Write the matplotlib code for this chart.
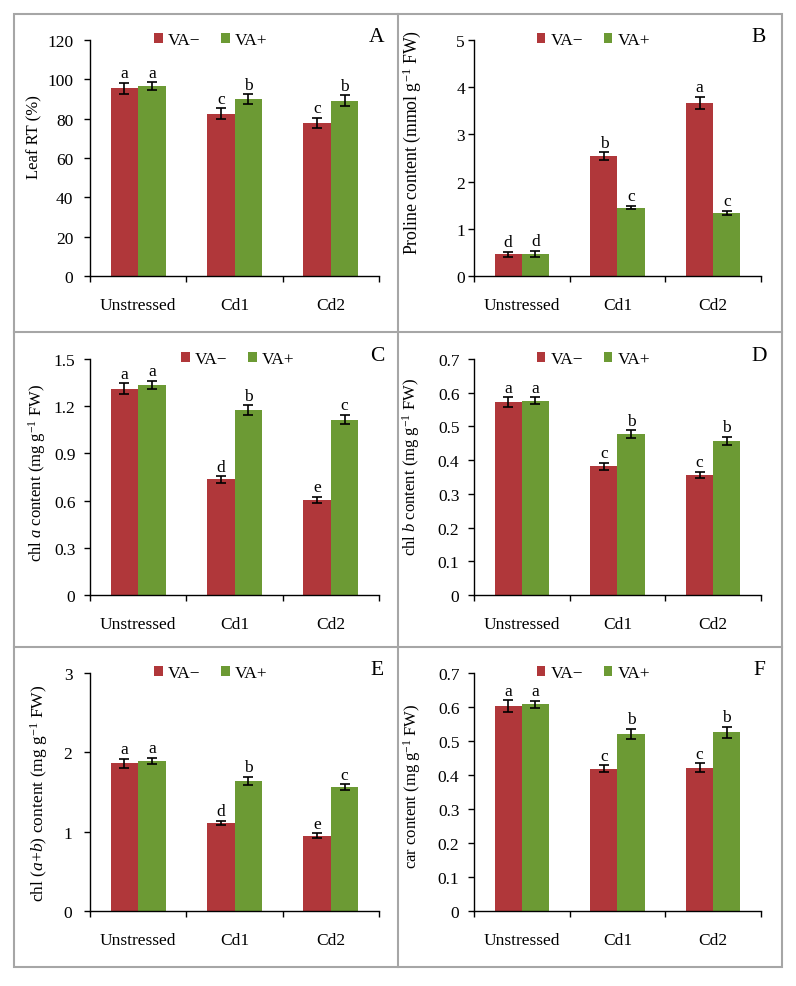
import matplotlib
matplotlib.use("Agg")
import matplotlib.pyplot as plt
from matplotlib.patches import Rectangle
from matplotlib.lines import Line2D
import numpy as np

plt.rcParams['font.family'] = ['Liberation Serif', 'DejaVu Serif']
plt.rcParams['mathtext.fontset'] = 'custom'
plt.rcParams['mathtext.rm'] = 'Liberation Serif'
plt.rcParams['mathtext.it'] = 'Liberation Serif:italic'

categories = ['Unstressed', 'Cd1', 'Cd2']
series_names = ['VA\u2212', 'VA+']

# Panel A: Leaf RT
rt_minus = [95.5, 82.5, 78.0]
rt_plus = [96.5, 90.0, 89.2]
rt_minus_err = [2.8, 2.7, 2.5]
rt_plus_err = [2.0, 2.5, 2.7]
rt_minus_let = ['a', 'c', 'c']
rt_plus_let = ['a', 'b', 'b']

# Panel B: Proline
pro_minus = [0.46, 2.54, 3.67]
pro_plus = [0.47, 1.45, 1.34]
pro_minus_err = [0.05, 0.08, 0.13]
pro_plus_err = [0.07, 0.04, 0.04]
pro_minus_let = ['d', 'b', 'a']
pro_plus_let = ['d', 'c', 'c']

# Panel C: chl a
chla_minus = [1.31, 0.735, 0.605]
chla_plus = [1.335, 1.175, 1.115]
chla_minus_err = [0.035, 0.02, 0.02]
chla_plus_err = [0.025, 0.03, 0.03]
chla_minus_let = ['a', 'd', 'e']
chla_plus_let = ['a', 'b', 'c']

# Panel D: chl b
chlb_minus = [0.572, 0.382, 0.356]
chlb_plus = [0.576, 0.477, 0.458]
chlb_minus_err = [0.015, 0.01, 0.01]
chlb_plus_err = [0.01, 0.012, 0.012]
chlb_minus_let = ['a', 'c', 'c']
chlb_plus_let = ['a', 'b', 'b']

# Panel E: chl (a+b)
chlab_minus = [1.86, 1.11, 0.95]
chlab_plus = [1.89, 1.64, 1.56]
chlab_minus_err = [0.06, 0.03, 0.03]
chlab_plus_err = [0.04, 0.05, 0.04]
chlab_minus_let = ['a', 'd', 'e']
chlab_plus_let = ['a', 'b', 'c']

# Panel F: carotenoids
car_minus = [0.603, 0.418, 0.422]
car_plus = [0.608, 0.521, 0.526]
car_minus_err = [0.017, 0.01, 0.013]
car_plus_err = [0.011, 0.015, 0.016]
car_minus_let = ['a', 'c', 'c']
car_plus_let = ['a', 'b', 'b']

yt_A = [0, 20, 40, 60, 80, 100, 120]
yt_B = [0, 1, 2, 3, 4, 5]
yt_C = [0, 0.3, 0.6, 0.9, 1.2, 1.5]
yt_D = [0, 0.1, 0.2, 0.3, 0.4, 0.5, 0.6, 0.7]
yt_E = [0, 1, 2, 3]
yt_F = [0, 0.1, 0.2, 0.3, 0.4, 0.5, 0.6, 0.7]
ytl_A = ['0', '20', '40', '60', '80', '100', '120']
ytl_B = ['0', '1', '2', '3', '4', '5']
ytl_C = ['0', '0.3', '0.6', '0.9', '1.2', '1.5']
ytl_D = ['0', '0.1', '0.2', '0.3', '0.4', '0.5', '0.6', '0.7']
ytl_E = ['0', '1', '2', '3']
ytl_F = ['0', '0.1', '0.2', '0.3', '0.4', '0.5', '0.6', '0.7']

RED = '#B0373A'
GREEN = '#6C9A34'
W, H = 796, 987

fig = plt.figure(figsize=(W / 100, H / 100), dpi=100)

def px_axes(x0, y0, x1, y1):
    return fig.add_axes([x0 / W, 1 - y1 / H, (x1 - x0) / W, (y1 - y0) / H])

UNIT = r'($\mathrm{mg\ g}^{-1}$ FW)'
panels = [
    dict(box=(90, 41, 379, 277), m=rt_minus, p=rt_plus, me=rt_minus_err, pe=rt_plus_err,
         ml=rt_minus_let, pl=rt_plus_let, yt=yt_A, ytl=ytl_A, ylab='Leaf RT (%)',
         letter='A', lab_xy=(-0.166, 0.593), pad=8, leg_x=0.226, lfs=12),
    dict(box=(474, 41, 761, 277), m=pro_minus, p=pro_plus, me=pro_minus_err, pe=pro_plus_err,
         ml=pro_minus_let, pl=pro_plus_let, yt=yt_B, ytl=ytl_B,
         ylab=r'Proline content ($\mathrm{mmol\ g}^{-1}$ FW)',
         letter='B', lab_xy=(-0.178, 0.568), pad=2.5, leg_x=0.223, lfs=12.8),
    dict(box=(90, 360, 379, 596), m=chla_minus, p=chla_plus, me=chla_minus_err, pe=chla_plus_err,
         ml=chla_minus_let, pl=chla_plus_let, yt=yt_C, ytl=ytl_C,
         ylab='chl $a$ content ' + UNIT,
         letter='C', lab_xy=(-0.145, 0.523), pad=6.5, leg_x=0.32, lfs=12),
    dict(box=(474, 360, 761, 596), m=chlb_minus, p=chlb_plus, me=chlb_minus_err, pe=chlb_plus_err,
         ml=chlb_minus_let, pl=chlb_plus_let, yt=yt_D, ytl=ytl_D,
         ylab='chl $b$ content ' + UNIT,
         letter='D', lab_xy=(-0.181, 0.547), pad=6.5, leg_x=0.223, lfs=12),
    dict(box=(90, 674, 379, 912), m=chlab_minus, p=chlab_plus, me=chlab_minus_err, pe=chlab_plus_err,
         ml=chlab_minus_let, pl=chlab_plus_let, yt=yt_E, ytl=ytl_E,
         ylab='chl ($a$+$b$) content ' + UNIT,
         letter='E', lab_xy=(-0.138, 0.50), pad=8.6, leg_x=0.226, lfs=12.6),
    dict(box=(474, 674, 761, 912), m=car_minus, p=car_plus, me=car_minus_err, pe=car_plus_err,
         ml=car_minus_let, pl=car_plus_let, yt=yt_F, ytl=ytl_F,
         ylab='car content ' + UNIT,
         letter='F', lab_xy=(-0.178, 0.53), pad=6.5, leg_x=0.223, lfs=12),
]

FS = 12.5
x = np.arange(len(categories))
bw = 0.285

for pn in panels:
    ax = px_axes(*pn['box'])
    b1 = ax.bar(x - bw / 2, pn['m'], bw, color=RED, label=series_names[0], zorder=2)
    b2 = ax.bar(x + bw / 2, pn['p'], bw, color=GREEN, label=series_names[1], zorder=2)
    ax.errorbar(x - bw / 2, pn['m'], yerr=pn['me'], fmt='none', ecolor='black',
                elinewidth=1.2, capsize=3.3, capthick=1.2, zorder=3)
    ax.errorbar(x + bw / 2, pn['p'], yerr=pn['pe'], fmt='none', ecolor='black',
                elinewidth=1.2, capsize=3.3, capthick=1.2, zorder=3)
    for i in range(len(categories)):
        ax.annotate(pn['ml'][i], (x[i] - bw / 2, pn['m'][i] + pn['me'][i]),
                    xytext=(0, 4), textcoords='offset points', ha='center',
                    va='baseline', fontsize=FS)
        ax.annotate(pn['pl'][i], (x[i] + bw / 2, pn['p'][i] + pn['pe'][i]),
                    xytext=(0, 4), textcoords='offset points', ha='center',
                    va='baseline', fontsize=FS)
    ax.set_xlim(-0.5, 2.5)
    ax.set_ylim(pn['yt'][0], pn['yt'][-1])
    ax.set_yticks(pn['yt'])
    ax.set_yticklabels(pn['ytl'], fontsize=FS)
    ax.set_xticks([-0.5, 0.5, 1.5, 2.5])
    ax.set_xticklabels([])
    ax.set_xticks(x, minor=True)
    ax.set_xticklabels(categories, minor=True, fontsize=FS)
    ax.tick_params(axis='x', which='major', direction='out', length=4, width=1)
    ax.tick_params(axis='x', which='minor', length=0, pad=15)
    ax.tick_params(axis='y', direction='out', length=4, width=1, pad=pn['pad'])
    for s in ['top', 'right']:
        ax.spines[s].set_visible(False)
    for s in ['left', 'bottom']:
        ax.spines[s].set_linewidth(1.0)
        ax.spines[s].set_color('black')
    ax.set_ylabel(pn['ylab'], fontsize=pn['lfs'])
    ax.yaxis.set_label_coords(*pn['lab_xy'])
    ax.text(0.993, 1.015, pn['letter'], transform=ax.transAxes, ha='center',
            va='center', fontsize=15.5)
    ax.legend(handles=[b1, b2], loc='center left', bbox_to_anchor=(pn['leg_x'] - 0.005, 1.0),
              ncol=2, frameon=False, fontsize=FS, handlelength=0.5, handleheight=0.5,
              handletextpad=0.3, columnspacing=1.2, borderpad=0, borderaxespad=0)

# panel frame
GRAY = '#A6A6A6'
fig.add_artist(Rectangle((14 / W, 1 - 968 / H), (782 - 14) / W, (968 - 15) / H,
                         transform=fig.transFigure, fill=False, edgecolor=GRAY, lw=1.5))
fig.add_artist(Line2D([398 / W, 398 / W], [1 - 968 / H, 1 - 15 / H],
                      transform=fig.transFigure, color=GRAY, lw=1.5))
for yy in (333, 648):
    fig.add_artist(Line2D([14 / W, 782 / W], [1 - yy / H, 1 - yy / H],
                          transform=fig.transFigure, color=GRAY, lw=1.5))

fig.savefig('out.png', dpi=100)
